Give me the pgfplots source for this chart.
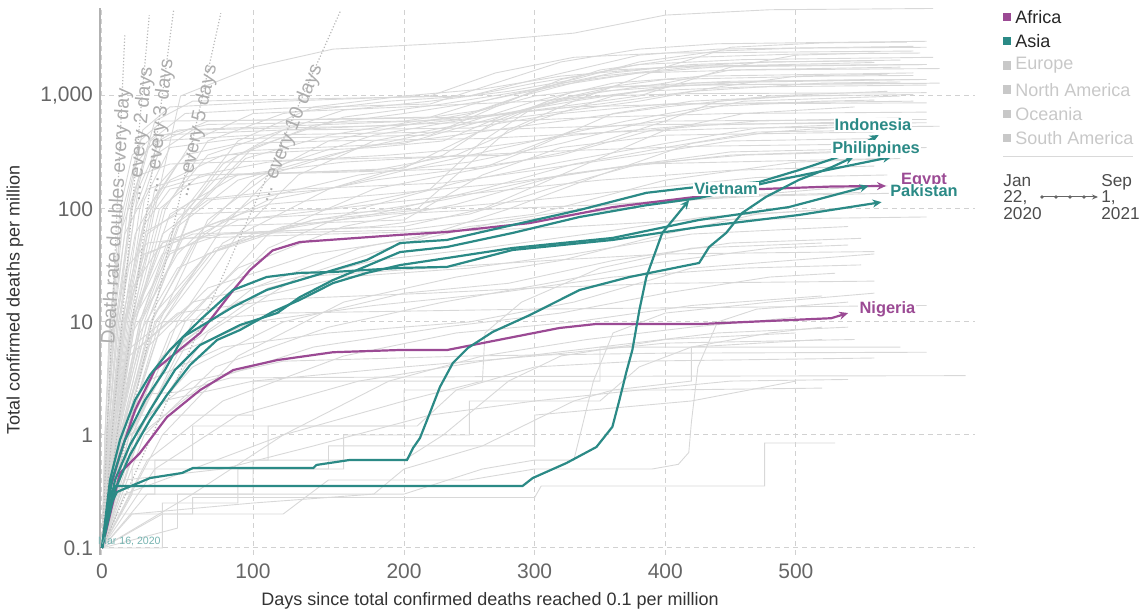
\documentclass[border=0pt]{standalone}
\usepackage{pgfplots}
\pgfplotsset{compat=1.18}
\usepackage{fontspec}
\setmainfont{Liberation Sans}
\usetikzlibrary{arrows.meta}
\definecolor{africa}{HTML}{9B4A94}
\definecolor{asia}{HTML}{2B8A86}
\definecolor{greyline}{HTML}{D8D8D8}
\definecolor{legendgrey}{HTML}{C8C8C8}

\begin{document}
\begin{tikzpicture}
\path[use as bounding box] (0,0) rectangle (570pt,306.5pt);
\begin{axis}[
    at={(50pt,29pt)}, anchor=south west,
    scale only axis, width=437.5pt, height=273.5pt,
    ymode=log,
    xmin=-1.32, xmax=637.1, ymin=0.0867, ymax=6010,
    % day axis is drawn a little wider below day 200, as in the source
    x coord trafo/.code={\pgfmathparse{min(#1,200)+0.865*max(#1-200,0)}},
    axis lines*=left,
    x axis line style={draw=none},
    y axis line style={draw=black!30, line width=0.8pt},
    xtick={0,100,200,300,400,500}, xticklabels={0,100,200,300,400,500},
    ytick={0.1,1,10,100,1000}, yticklabels={0.1,1,10,100,{1,000}},
    yminorticks=false, major tick length=0pt,
    grid=major,
    major grid style={black!18, dash pattern=on 2.5pt off 2pt, line width=0.5pt},
    tick label style={font=\fontsize{10.5}{12}\selectfont, text=black!60},
    xticklabel style={yshift=-1pt},
    /pgf/number format/assume math mode=true,
    gl/.style={no marks, line width=0.45pt, greyline},
    dbl/.style={no marks, line width=0.6pt, black!28, densely dotted},
    af/.style={no marks, line width=1.1pt, africa, -{Stealth[length=4.5pt,width=4pt]}},
    as/.style={no marks, line width=1.1pt, asia, -{Stealth[length=4.5pt,width=4pt]}},
]
%% grey countries
\addplot[gl] coordinates {(0,0.1)(8,1)(20,10)(35,100)(52,1000)(100,1800)(153,2600)(250,3000)(330,3600)(400,5200)(480,5800)(605,5950)};
\addplot[gl] coordinates {(0,0.1)(4,1)(10,10)(20,100)(32,400)(55,700)(120,780)(220,850)(270,1300)(320,2000)(380,2600)(440,2900)(600,3050)};
\addplot[gl] coordinates {(0,0.1)(3,1)(8,10)(17,100)(27,500)(45,800)(120,900)(220,1000)(270,1600)(330,2200)(400,2400)(590,2500)};
\addplot[gl] coordinates {(0,0.1)(6,1)(14,10)(25,100)(40,400)(70,600)(220,650)(260,900)(320,1300)(380,1600)(460,1700)(610,1750)};
\addplot[gl] coordinates {(0,0.1)(5,1)(12,10)(22,100)(35,300)(60,500)(200,550)(250,700)(300,1100)(350,1700)(420,2200)(500,2350)(595,2400)};
\addplot[gl] coordinates {(0,0.1)(8,1)(20,10)(40,50)(80,80)(210,100)(240,200)(280,500)(330,900)(400,1800)(450,2700)(520,2950)(585,3000)};
\addplot[gl] coordinates {(0,0.1)(9,1)(25,10)(45,60)(80,250)(120,500)(160,750)(220,900)(280,1100)(330,1400)(380,2000)(440,2500)(500,2650)(600,2700)};
\addplot[gl] coordinates {(0,0.1)(10,1)(25,10)(50,80)(90,300)(140,550)(200,700)(260,900)(320,1250)(380,1600)(450,1850)(560,1980)};
\addplot[gl] coordinates {(0,0.1)(12,1)(30,10)(60,100)(100,350)(160,650)(230,850)(300,1150)(360,1600)(420,1900)(480,2000)(580,2080)};
\addplot[gl] coordinates {(0,0.1)(15,1)(40,10)(80,70)(120,250)(180,450)(240,600)(300,750)(380,1000)(450,1800)(500,2300)(560,2400)};
\addplot[gl] coordinates {(0,0.1)(20,1)(50,10)(90,60)(130,200)(180,400)(240,550)(310,700)(380,900)(440,1200)(500,1500)(570,1560)};
\addplot[gl] coordinates {(0,0.1)(7,1)(16,10)(30,100)(50,250)(100,330)(200,380)(260,600)(320,900)(380,1100)(460,1200)(600,1250)};
\addplot[gl] coordinates {(0,0.1)(10,1)(22,10)(40,60)(70,120)(150,150)(230,300)(270,600)(330,1100)(400,1400)(520,1500)(590,1520)};
\addplot[gl] coordinates {(0,0.1)(5,1)(13,10)(26,60)(50,90)(150,100)(220,150)(260,400)(300,800)(350,1100)(420,1250)(610,1300)};
\addplot[gl] coordinates {(0,0.1)(4,1)(11,10)(24,150)(40,450)(70,560)(200,600)(260,750)(300,1000)(360,1200)(440,1260)(600,1290)};
\addplot[gl] coordinates {(0,0.1)(6,1)(15,10)(28,80)(45,180)(80,300)(180,350)(230,400)(280,700)(330,1000)(400,1300)(450,1700)(580,1800)};
\addplot[gl] coordinates {(0,0.1)(8,1)(20,8)(50,40)(100,180)(150,400)(200,550)(260,650)(330,900)(400,1200)(470,1350)(560,1400)};
\addplot[gl] coordinates {(0,0.1)(3,1)(9,10)(20,120)(35,600)(60,900)(150,950)(250,1000)(300,1300)(360,1700)(430,1850)(600,1900)};
\addplot[gl] coordinates {(0,0.1)(7,1)(18,10)(35,120)(60,400)(100,700)(200,800)(300,900)(350,1000)(420,1050)(600,1070)};
\addplot[gl] coordinates {(0,0.1)(11,1)(28,10)(55,100)(90,400)(140,800)(200,1000)(260,1150)(320,1500)(400,1800)(480,2000)(560,2050)};
\addplot[gl] coordinates {(0,0.1)(6,1)(16,10)(30,60)(60,120)(130,150)(230,170)(300,220)(380,300)(450,400)(560,420)};
\addplot[gl] coordinates {(0,0.1)(10,1)(25,8)(50,30)(100,60)(180,90)(260,150)(330,250)(400,350)(470,480)(575,500)};
\addplot[gl] coordinates {(0,0.1)(14,1)(35,10)(70,40)(140,80)(230,120)(300,180)(380,250)(460,300)(550,320)};
\addplot[gl] coordinates {(0,0.1)(5,1)(14,10)(30,40)(60,60)(200,70)(260,100)(320,200)(380,250)(570,280)};
\addplot[gl] coordinates {(0,0.1)(18,1)(45,8)(90,30)(160,70)(240,110)(320,200)(400,500)(460,700)(545,800)};
\addplot[gl] coordinates {(0,0.1)(12,1)(30,6)(70,20)(140,40)(210,55)(280,100)(350,200)(420,380)(480,480)(555,550)};
\addplot[gl] coordinates {(0,0.1)(8,1)(20,10)(45,90)(90,200)(160,260)(250,300)(330,330)(430,360)(590,380)};
\addplot[gl] coordinates {(0,0.1)(9,1)(22,12)(40,100)(70,300)(120,500)(200,560)(280,600)(350,650)(450,700)(600,720)};
\addplot[gl] coordinates {(0,0.1)(16,1)(40,10)(80,50)(150,150)(220,250)(300,400)(370,600)(430,800)(520,900)(560,920)};
\addplot[gl] coordinates {(0,0.1)(13,1)(32,10)(65,60)(110,120)(180,180)(250,230)(320,300)(390,500)(470,600)(580,640)};
\addplot[gl] coordinates {(0,0.1)(7,1)(17,10)(35,150)(55,300)(90,380)(150,400)(260,420)(360,480)(460,520)(610,540)};
\addplot[gl] coordinates {(0,0.1)(20,1)(55,10)(110,60)(180,150)(260,230)(330,330)(400,600)(440,900)(500,1000)(540,1020)};
\addplot[gl] coordinates {(0,0.1)(15,1)(40,5)(90,15)(160,25)(250,30)(330,40)(420,60)(540,70)};
\addplot[gl] coordinates {(0,0.1)(20,1)(60,4)(120,10)(200,18)(280,22)(360,35)(450,50)(550,55)};
\addplot[gl] coordinates {(0,0.1)(10,1)(30,3)(80,6)(150,8)(250,10)(330,15)(420,30)(560,40)};
\addplot[gl] coordinates {(0,0.1)(25,1)(70,3)(140,6)(230,9)(320,12)(400,18)(480,25)(530,27)};
\addplot[gl] coordinates {(0,0.1)(6,1)(18,5)(50,12)(120,16)(220,18)(300,20)(400,22)(560,23)};
\addplot[gl] coordinates {(0,0.1)(30,0.6)(80,2)(160,5)(240,8)(330,10)(420,14)(520,17)};
\addplot[gl] coordinates {(0,0.1)(12,0.8)(40,2)(100,3)(200,4)(300,5)(400,6.5)(545,7)};
\addplot[gl] coordinates {(0,0.1)(40,0.1)(40,0.25)(90,0.25)(90,0.5)(160,0.5)(160,1)(250,1)(250,2)(350,2)(380,4)(420,6)(480,8)(520,9)};
\addplot[gl] coordinates {(0,0.1)(8,1)(20,10)(45,40)(90,80)(180,110)(260,140)(350,180)(450,220)(560,240)};
\addplot[gl] coordinates {(0,0.1)(18,1)(50,6)(100,20)(170,45)(250,70)(330,90)(420,120)(520,150)(570,160)};
\addplot[gl] coordinates {(0,0.1)(25,1)(70,8)(130,25)(200,50)(280,80)(360,110)(450,130)(550,140)};
\addplot[gl] coordinates {(0,0.1)(12,1)(35,12)(70,40)(120,70)(190,90)(270,100)(360,110)(470,130)(600,140)};
\addplot[gl] coordinates {(0,0.1)(5,1)(12,5)(40,10)(120,12)(300,13)(600,14)};
\addplot[gl] coordinates {(0,0.1)(5,0.5)(12,1)(20,1.8)(30,2.3)(50,2.4)(85,3.2)(300,3.3)(630,3.35)};
\addplot[gl] coordinates {(0,0.1)(10,0.5)(30,1.5)(60,3)(120,4.5)(250,5)(400,5.3)(600,5.4)};
\addplot[gl] coordinates {(0,0.1)(20,0.3)(20,0.5)(150,0.5)(150,0.8)(300,0.8)(300,1.5)(420,2)(500,3)};
\addplot[gl] coordinates {(0,0.1)(10,0.2)(60,0.2)(60,0.28)(300,0.28)(305,0.354)(476,0.354)(476,0.85)(530,0.85)};
\addplot[gl] coordinates {(0,0.1)(30,0.3)(100,0.3)(100,0.6)(200,0.6)(230,1)(280,3)(320,5)(400,7)(500,8)};
\addplot[gl] coordinates {(0,0.1)(50,0.15)(50,0.3)(180,0.3)(200,0.5)(260,0.8)(330,2)(360,2.5)(420,3)(420,6)(520,7)};
\addplot[gl] coordinates {(0,0.1)(40,0.2)(120,0.2)(150,0.4)(250,0.4)(300,0.5)(390,0.5)(410,0.55)(418,0.7)(420,1.3)(425,4)(440,10)(470,13)(540,15)};
\addplot[gl] coordinates {(0,0.1)(15,0.3)(60,0.5)(120,1)(200,2)(260,3)(262,8)(290,15)(350,30)(420,45)(520,50)};
\addplot[gl] coordinates {(0,0.1)(5,0.3)(35,0.3)(35,0.6)(110,0.6)(110,1.2)(210,1.2)(240,2.5)(300,4)(380,4.5)(560,4.8)};
\addplot[gl] coordinates {(0,0.1)(20,0.2)(100,0.25)(180,0.3)(200,0.3)(260,0.5)(300,0.6)(330,0.6)(345,3)(360,8)(400,12)(480,15)(560,18)};
\addplot[gl] coordinates {(0,0.1)(2,1)(6,10)(14,100)(25,400)(40,600)(150,620)(250,650)(330,800)(420,850)(600,870)};
\addplot[gl] coordinates {(0,0.1)(3,1)(7,10)(15,60)(30,150)(60,200)(150,210)(260,230)(300,350)(360,700)(420,900)(500,1000)(590,1030)};
\addplot[gl] coordinates {(0,0.1)(2,1)(5,10)(12,60)(25,200)(45,250)(120,270)(280,300)(330,500)(400,600)(600,620)};
\addplot[gl] coordinates {(0,0.1)(4,0.8)(10,4)(20,20)(40,50)(70,70)(200,80)(260,200)(320,350)(400,450)(560,480)};
\addplot[gl] coordinates {(0,0.1)(3,1)(8,8)(16,30)(30,50)(80,60)(200,65)(300,90)(400,180)(500,260)(580,280)};
\addplot[gl] coordinates {(0,0.1)(2,0.6)(60,0.6)(60,1.2)(200,1.2)(200,2.5)(400,2.5)(520,2.6)};
\addplot[gl] coordinates {(0,0.1)(5,1.5)(100,1.5)(100,3)(350,3)(350,6)(580,6)};
\addplot[gl] coordinates {(0,0.1)(4,1)(10,10)(19,100)(30,350)(50,500)(150,560)(240,620)(290,1000)(350,1500)(420,1800)(600,1900)};
\addplot[gl] coordinates {(0,0.1)(6,1)(15,10)(28,120)(45,350)(90,420)(220,450)(270,800)(320,1400)(380,1900)(460,2100)(605,2200)};
\addplot[gl] coordinates {(0,0.1)(9,1)(22,10)(42,100)(70,400)(120,700)(190,900)(250,1000)(300,1400)(380,2300)(440,2600)(590,2750)};
\addplot[gl] coordinates {(0,0.1)(11,1)(26,10)(50,70)(90,180)(150,300)(230,500)(300,900)(360,1300)(430,1500)(590,1600)};
\addplot[gl] coordinates {(0,0.1)(5,1)(13,10)(27,70)(45,150)(90,200)(200,230)(260,500)(310,900)(360,1200)(450,1350)(600,1400)};
\addplot[gl] coordinates {(0,0.1)(13,1)(33,10)(60,50)(100,120)(170,200)(250,260)(320,380)(400,650)(460,900)(580,1000)};
\addplot[gl] coordinates {(0,0.1)(16,1)(38,10)(70,80)(110,200)(170,350)(240,450)(320,600)(400,800)(480,1000)(570,1100)};
\addplot[gl] coordinates {(0,0.1)(7,1)(19,10)(40,40)(80,60)(180,70)(250,90)(310,150)(380,250)(450,320)(600,350)};
\addplot[gl] coordinates {(0,0.1)(10,1)(26,10)(55,60)(110,110)(200,140)(280,170)(360,230)(450,300)(560,330)};
\addplot[gl] coordinates {(0,0.1)(14,1)(36,10)(75,45)(140,80)(220,100)(300,120)(380,150)(470,190)(570,200)};
\addplot[gl] coordinates {(0,0.1)(22,1)(55,6)(110,20)(180,35)(260,45)(340,60)(430,85)(530,100)};
\addplot[gl] coordinates {(0,0.1)(9,1)(25,6)(60,15)(130,25)(220,30)(310,35)(400,40)(560,42)};
\addplot[gl] coordinates {(0,0.1)(18,1)(45,5)(100,10)(180,14)(270,18)(360,25)(460,30)(550,32)};
\addplot[gl] coordinates {(0,0.1)(28,1)(75,4)(150,9)(230,15)(310,22)(390,33)(480,45)(540,48)};
\addplot[gl] coordinates {(0,0.1)(35,0.5)(90,1.5)(170,3)(260,4.5)(350,6)(440,8)(540,9)};
\addplot[gl] coordinates {(0,0.1)(3,1)(7,10)(14,80)(22,250)(35,400)(100,450)(230,480)(300,520)(400,560)(600,580)};
\addplot[gl] coordinates {(0,0.1)(2,1)(6,12)(12,100)(20,300)(35,450)(120,500)(250,520)(320,700)(400,850)(590,900)};
\addplot[gl] coordinates {(0,0.1)(4,1)(11,10)(22,60)(38,150)(70,200)(180,220)(240,300)(300,600)(360,1000)(420,1300)(590,1400)};
\addplot[gl] coordinates {(0,0.1)(12,1)(30,10)(58,90)(95,280)(150,450)(210,600)(280,700)(350,850)(420,1100)(520,1300)(580,1330)};
\addplot[gl] coordinates {(0,0.1)(8,1)(19,10)(38,100)(65,200)(110,260)(190,300)(260,350)(330,450)(420,550)(580,600)};
\addplot[gl] coordinates {(0,0.1)(24,1)(60,10)(110,45)(170,100)(240,170)(320,260)(400,380)(470,520)(540,560)};
\addplot[gl] coordinates {(0,0.1)(40,1)(90,5)(160,15)(240,25)(320,35)(400,60)(470,90)(530,100)};
\addplot[gl] coordinates {(0,0.1)(60,0.3)(120,1)(190,3)(260,5)(340,7)(420,9)(500,11)};
\addplot[gl] coordinates {(0,0.1)(15,0.4)(80,0.5)(140,0.8)(220,1.5)(300,2)(380,2.5)(450,3)(540,3.1)};
\addplot[gl] coordinates {(0,0.1)(6,1)(15,10)(28,40)(55,55)(150,60)(260,65)(330,70)(420,80)(600,85)};

%% doubling-time guides
\addplot[dbl] coordinates {(0,0.1)(15.1,3470)};
\addplot[dbl] coordinates {(0,0.1)(31.3,5200)};
\addplot[dbl] coordinates {(0,0.1)(47.4,5700)};
\addplot[dbl] coordinates {(0,0.1)(78.7,5400)};
\addplot[dbl] coordinates {(0,0.1)(158,5700)};

%% Africa
\addplot[af] coordinates {(0,0.1)(11.9,0.46)(25,0.69)(43,1.44)(65,2.5)(87,3.76)(116,4.6)(153,5.4)(197,5.65)(233,5.65)(319,8.85)(347,9.6)(427,9.6)(527,10.8)(540,12)}; % Nigeria
\addplot[af] coordinates {(0,0.1)(5.3,0.33)(11.9,0.67)(21.9,1.66)(35,3.76)(65,8.0)(87,19.2)(98,28.8)(113,43)(131,51)(197,59)(233,62.6)(296,75)(360,104)(416,125)(472,150)(527,158)(569,160)}; % Egypt

%% Asia
\addplot[as] coordinates {(0,0.1)(2.6,0.177)(5.3,0.294)(8.6,0.354)(131,0.354)(290.8,0.354)(298.5,0.416)(324.4,0.565)(347.3,0.783)(359.5,1.18)(364.9,2.04)(370.2,3.61)(374.8,5.65)(380.2,12.8)(385.5,25.0)(397.7,61.4)(418.3,120)}; % Vietnam
\addplot[as] coordinates {(0,0.1)(4,0.217)(9.9,0.313)(31.8,0.416)(53,0.461)(60.3,0.511)(140,0.511)(142,0.543)(164,0.601)(202.3,0.601)(206.9,0.767)(212.2,0.94)(219.8,1.57)(227.5,2.66)(237.4,4.34)(248.9,5.89)(267.9,8.17)(296.2,11.5)(334.4,19.2)(372.5,25.0)(425.9,33.3)(433.6,46.1)(446.6,61.4)(458.8,92.2)(477.1,128)(502.3,181)(527.5,235)(544.3,289)};
\addplot[as] coordinates {(0,0.1)(6.6,0.40)(15.2,0.904)(28.5,2.04)(41.7,3.76)(53.6,7.36)(86.8,13.6)(109,19.2)(131,23.5)(153,28.8)(175.5,35.4)(197.4,50.0)(232.8,53.2)(283.2,72.2)(334.4,98)(385.5,139)(418.3,154)(471.8,173)(502.3,221)(532.8,289)(563.4,452)}; % Indonesia
\addplot[as] coordinates {(0,0.1)(8.6,0.40)(18.5,0.816)(31.8,1.66)(48.3,3.76)(64.9,6.25)(91.4,9.4)(116,12.0)(131,16.6)(153,23.5)(197.4,41.6)(232.8,46.1)(283.2,61.4)(334.4,85)(385.5,108)(425.9,125)(487,181)(573.3,289)}; % Philippines
\addplot[as] coordinates {(0,0.1)(8.6,0.326)(18.5,0.665)(31.8,1.36)(43,2.26)(58.3,4.16)(76.2,6.93)(91.4,8.5)(113,12.3)(131,15.7)(153,22.1)(175.5,27.2)(197.4,31.9)(232.8,36.8)(283.2,45.2)(359.5,55.4)(425.9,80)(494.7,104)(555.7,160)};
\addplot[as] coordinates {(0,0.1)(5.3,0.40)(11.9,0.904)(21.9,2.04)(31.8,3.40)(45,5.65)(64.9,10.4)(86.8,19.2)(109,25.0)(131,27.2)(153,27.7)(197.4,30.1)(232.8,30.7)(283.2,43.4)(359.5,53.2)(425.9,69.3)(502.3,88.5)(565.6,115)}; % Pakistan
\end{axis}

%% axis titles
\node[rotate=90, font=\fontsize{9}{11}\selectfont, text=black!80] at (7.5pt,156.5pt) {Total confirmed deaths per million};
\node[font=\fontsize{9}{11}\selectfont, text=black!80] at (245pt,6pt) {Days since total confirmed deaths reached 0.1 per million};

%% doubling labels
\begin{scope}[every node/.style={font=\fontsize{9.8}{11}\selectfont, text=black!32, inner sep=0pt}]
\node[rotate=86.6] at (58.5pt,198.5pt) {Death rate doubles every day};
\node[rotate=84.8] at (70.5pt,239.5pt) {... every 2 days};
\node[rotate=83.3] at (80pt,243.5pt) {... every 3 days};
\node[rotate=77.6] at (98.5pt,241pt) {... every 5 days};
\node[rotate=67.8] at (145pt,240pt) {... every 10 days};
\end{scope}

%% country labels
\begin{scope}[every node/.style={font=\bfseries\fontsize{8.2}{10}\selectfont, fill=white, inner sep=0.6pt}]
\node[text=asia] at (436.5pt,244pt) {Indonesia};
\node[text=asia] at (438pt,232pt) {Philippines};
\node[text=asia] at (363pt,212pt) {Vietnam};
\node[text=africa] at (462pt,216pt) {Egypt};
\node[text=asia] at (462pt,211pt) {Pakistan};
\node[text=africa] at (443.7pt,152pt) {Nigeria};
\end{scope}
\node[font=\fontsize{5.3}{6}\selectfont, text=asia!65!white, inner sep=0pt] at (64.7pt,36pt) {Mar 16, 2020};

%% legend
\begin{scope}[every node/.style={font=\fontsize{9}{11}\selectfont, anchor=west, inner sep=0pt}]
\fill[africa] (501.5pt,295.9pt) rectangle ++(4.2pt,4.2pt);
\node[text=black!85] at (507.5pt,298pt) {Africa};
\fill[asia] (501.5pt,283.8pt) rectangle ++(4.2pt,4.2pt);
\node[text=black!85] at (507.5pt,285.9pt) {Asia};
\fill[legendgrey] (501.5pt,271.7pt) rectangle ++(4.2pt,4.2pt);
\node[text=legendgrey] at (507.5pt,273.8pt) {Europe};
\fill[legendgrey] (501.5pt,259.6pt) rectangle ++(4.2pt,4.2pt);
\node[text=legendgrey] at (507.5pt,261.7pt) {North America};
\fill[legendgrey] (501.5pt,247.5pt) rectangle ++(4.2pt,4.2pt);
\node[text=legendgrey] at (507.5pt,249.6pt) {Oceania};
\fill[legendgrey] (501.5pt,235.4pt) rectangle ++(4.2pt,4.2pt);
\node[text=legendgrey] at (507.5pt,237.5pt) {South America};
\end{scope}
\draw[black!15, line width=0.5pt] (501.5pt,228pt) -- (566.5pt,228pt);
\begin{scope}[every node/.style={font=\fontsize{8.6}{8.3}\selectfont, anchor=west, inner sep=0pt, align=left, text=black!70}]
\node at (501.5pt,208pt) {Jan\\22,\\2020};
\node at (550.5pt,208pt) {Sep\\1,\\2021};
\end{scope}
\draw[black!60, line width=0.5pt, -{Stealth[length=3pt,width=2.5pt]}] (521pt,208pt) -- (549pt,208pt);
\foreach \d in {521,528,535,542} \fill[black!60] (\d pt,208pt) circle (0.9pt);
\end{tikzpicture}
\end{document}
